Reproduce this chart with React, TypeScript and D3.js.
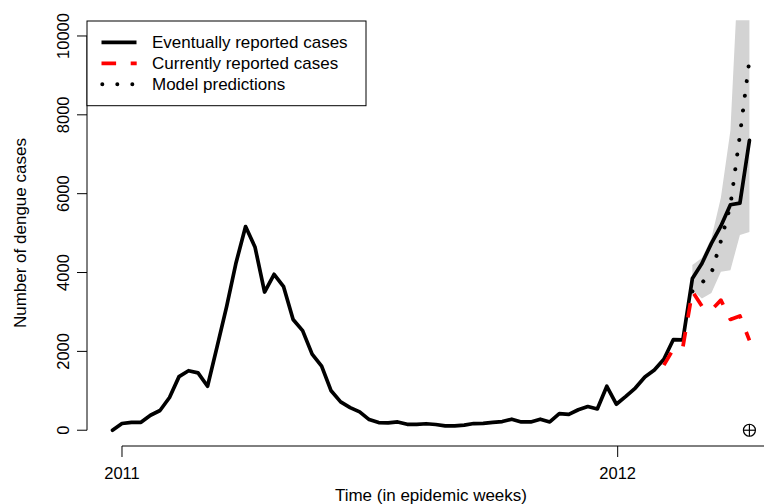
import React from "react";
import * as d3 from "d3";

// Weekly series starting one week before 2011-01-01 (epidemic week end dates)
const eventuallyReported = [
  0, 170, 200, 200, 380, 500, 830, 1360, 1510, 1455,
  1115, 2115, 3130, 4250, 5165, 4640, 3505, 3955, 3640, 2810,
  2525, 1930, 1625, 1000, 720, 575, 465, 270, 195, 185,
  210, 150, 150, 165, 145, 110, 110, 130, 170, 175,
  200, 220, 280, 210, 210, 280, 210, 420, 400, 520,
  600, 540, 1115, 660, 860, 1070, 1350, 1530, 1800, 2300,
  2290, 3850, 4230, 4740, 5180, 5720, 5760, 7350,
];
// starting at week index 58
const currentlyReportedStart = 58;
const currentlyReported = [1650, 2060, 2110, 3520, 3150, 3050, 3300, 2810, 2900, 2280];
// predictions and interval starting at week index 61
const predictionStart = 61;
const modelPrediction = [3520, 3740, 3980, 4800, 5700, 7490, 9400];
const predictionLower = [3550, 3340, 3480, 4020, 4060, 4950, 5030];
const predictionUpper = [4190, 4370, 4870, 5900, 7600, 12500, 16000];

const yTicks = [0, 2000, 4000, 6000, 8000, 10000];
const xTickYears = [2011, 2012];
const legendLabels = ["Eventually reported cases", "Currently reported cases", "Model predictions"];

const FONT = "'Liberation Sans', Arial, Helvetica, sans-serif";
const DAY = 864e5;

export default function App() {
  const W = 764, H = 504;
  const left = 87, right = 774.9, top = 20.2, bottom = 446;

  const dates = eventuallyReported.map(
    (_, i) => new Date(Date.UTC(2011, 0, 1) + (i - 1) * 7 * DAY)
  );
  const [d0, d1] = d3.extent(dates) as [Date, Date];
  const span = +d1 - +d0;
  const x = d3
    .scaleUtc()
    .domain([new Date(+d0 - 0.04 * span), new Date(+d1 + 0.04 * span)])
    .range([left, right]);
  const y = d3.scaleLinear().domain([-400, 10400]).range([bottom, top]);

  type P = { d: Date; v: number };
  const line = d3.line<P>().x((p) => x(p.d)).y((p) => y(p.v));

  const black: P[] = eventuallyReported.map((v, i) => ({ d: dates[i], v }));
  const red: P[] = currentlyReported.map((v, k) => ({ d: dates[currentlyReportedStart + k], v }));
  const pred: P[] = modelPrediction.map((v, k) => ({ d: dates[predictionStart + k], v }));
  const band = predictionLower.map((lo, k) => ({
    d: dates[predictionStart + k],
    lo,
    hi: predictionUpper[k],
  }));
  const area = d3
    .area<{ d: Date; lo: number; hi: number }>()
    .x((p) => x(p.d))
    .y0((p) => y(p.lo))
    .y1((p) => y(p.hi));

  const lastDate = dates[dates.length - 1];
  const nowX = x(lastDate);
  const nowY = y(0);

  const lw = 3.7;
  const axisY = bottom;
  const axisX = left;
  const tickFont = 16.5;
  const labelFont = 17;

  return (
    <svg
      width={W}
      height={H}
      style={{ position: "absolute", left: 0, top: 0, background: "#fff" }}
      fontFamily={FONT}
    >
      <defs>
        <clipPath id="plotclip">
          <rect x={left} y={top} width={right - left} height={bottom - top} />
        </clipPath>
      </defs>
      <rect x={0} y={0} width={W} height={H} fill="#fff" />

      <g clipPath="url(#plotclip)">
        <path d={area(band) || ""} fill="#d3d3d3" stroke="none" />
        <path
          d={line(pred) || ""}
          fill="none"
          stroke="#000"
          strokeWidth={4}
          strokeLinecap="round"
          strokeDasharray="0.01 14.8"
        />
        <path
          d={line(black) || ""}
          fill="none"
          stroke="#000"
          strokeWidth={lw}
          strokeLinejoin="round"
          strokeLinecap="round"
        />
        <path
          d={line(red) || ""}
          fill="none"
          stroke="#ff0000"
          strokeWidth={lw}
          strokeLinejoin="round"
          strokeLinecap="butt"
          strokeDasharray="14.6 14.6"
        />
        {/* "now" marker (pch 10) */}
        <g stroke="#000" strokeWidth={1.2} fill="none">
          <circle cx={nowX} cy={nowY} r={6} />
          <line x1={nowX - 6} x2={nowX + 6} y1={nowY} y2={nowY} />
          <line x1={nowX} x2={nowX} y1={nowY - 6} y2={nowY + 6} />
        </g>
      </g>

      {/* Y axis */}
      <g stroke="#000" strokeWidth={1} fill="none">
        <line x1={axisX} x2={axisX} y1={y(yTicks[0])} y2={y(yTicks[yTicks.length - 1])} />
        {yTicks.map((t) => (
          <line key={t} x1={axisX - 10} x2={axisX} y1={y(t)} y2={y(t)} />
        ))}
      </g>
      {yTicks.map((t) => (
        <text
          key={t}
          transform={`translate(68.5,${y(t)}) rotate(-90)`}
          textAnchor="middle"
          fontSize={tickFont}
          fill="#000"
        >
          {t}
        </text>
      ))}

      {/* X axis */}
      <g stroke="#000" strokeWidth={1} fill="none">
        <line x1={x(new Date(Date.UTC(xTickYears[0], 0, 1)))} x2={right} y1={axisY} y2={axisY} />
        {xTickYears.map((yr) => {
          const px = x(new Date(Date.UTC(yr, 0, 1)));
          return <line key={yr} x1={px} x2={px} y1={axisY} y2={axisY + 11} />;
        })}
      </g>
      {xTickYears.map((yr) => (
        <text
          key={yr}
          x={x(new Date(Date.UTC(yr, 0, 1)))}
          y={479.3}
          textAnchor="middle"
          fontSize={tickFont}
          fill="#000"
        >
          {yr}
        </text>
      ))}

      {/* Axis titles */}
      <text x={(left + right) / 2} y={500.5} textAnchor="middle" fontSize={labelFont} fill="#000">
        Time (in epidemic weeks)
      </text>
      <text
        transform={`translate(25.5,${(top + bottom) / 2}) rotate(-90)`}
        textAnchor="middle"
        fontSize={labelFont}
        fill="#000"
      >
        Number of dengue cases
      </text>

      {/* Legend */}
      <g>
        <rect x={87} y={21} width={279} height={84.7} fill="#fff" stroke="#000" strokeWidth={1} />
        {legendLabels.map((lab, k) => {
          const ry = 42.3 + k * 21;
          return (
            <g key={lab}>
              {k === 0 && (
                <line x1={101.5} x2={136.5} y1={ry} y2={ry} stroke="#000" strokeWidth={lw} strokeLinecap="butt" />
              )}
              {k === 1 && (
                <line
                  x1={101.5}
                  x2={136.7}
                  y1={ry}
                  y2={ry}
                  stroke="#ff0000"
                  strokeWidth={lw}
                  strokeDasharray="14.6 14.6"
                />
              )}
              {k === 2 && (
                <line
                  x1={102.3}
                  x2={136.7}
                  y1={ry}
                  y2={ry}
                  stroke="#000"
                  strokeWidth={4}
                  strokeLinecap="round"
                  strokeDasharray="0.01 15"
                />
              )}
              <text x={152} y={ry + 6} fontSize={labelFont} fill="#000">
                {lab}
              </text>
            </g>
          );
        })}
      </g>
    </svg>
  );
}
